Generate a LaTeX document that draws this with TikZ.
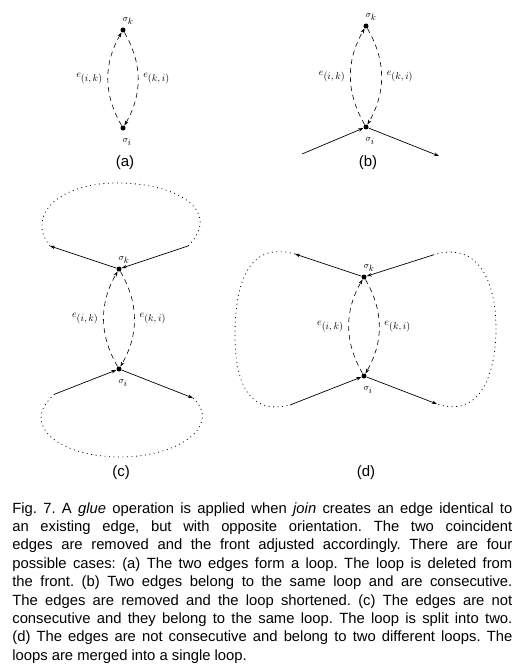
\documentclass[tikz,border=0pt]{standalone}
\usepackage{fontspec}
\setmainfont{Liberation Sans}
\usetikzlibrary{arrows.meta, positioning}
\frenchspacing
\tikzset{
  every picture/.style={x=1pt, y=-1pt, line width=0.7pt},
  vtx/.style={circle, fill=black, inner sep=0pt, minimum size=5pt},
  sig/.style={font=\fontsize{9.5}{10}\selectfont, inner sep=1pt},
  elab/.style={font=\fontsize{10}{11}\selectfont, inner sep=2pt},
  tip/.style={-{Stealth[length=5pt, width=3.5pt]}},
  glued/.style={tip, dash pattern=on 5pt off 4pt, line width=0.6pt},
  front/.style={tip, line width=0.7pt},
  loopdots/.style={dash pattern=on 0.9pt off 3.6pt, line width=0.8pt},
  panel/.style={font=\fontsize{15}{18}\selectfont},
  caption/.style={anchor=north west, text width=500pt, align=justify, inner sep=0pt, font=\fontsize{14.8}{18.4}\selectfont},
}

\begin{document}
\begin{tikzpicture}
  \useasboundingbox (0,0) rectangle (522,669);
  % the two coincident edges, same in every case
  \foreach \p/\x/\yk/\yi/\yl in {a/123/30/128/163, b/366/26/127/163, c/119/269/369/473, d/364/277/376/473} {
    \node[vtx] (\p k) at (\x,\yk) {};
    \node[vtx] (\p i) at (\x,\yi) {};
    \node[sig] (\p k-l) at (\x+5,\yk-9) {$\sigma_{\textstyle k}$};
    \node[sig] (\p i-l) at (\x+4,\yi+14) {$\sigma_{\textstyle i}$};
    \draw[glued] (\p i) to[bend left=30] node[elab, left=3pt] (\p ik) {$e_{\textstyle (i,k)}$} (\p k);
    \draw[glued] (\p k) to[bend left=30] node[elab, right=3pt] (\p ki) {$e_{\textstyle (k,i)}$} (\p i);
    \node[panel] (\p-cap) at (\x+2,\yl) {(\p)};
  }
  % (b): consecutive edges on one loop
  \coordinate (bin) at (302,154);
  \coordinate (bout) at (439,156);
  \draw[front] (bin) -- (bi);
  \draw[front] (bi) -- (bout);
  % (c): same loop, split into two
  \coordinate (cul) at (50,246);
  \coordinate (cur) at (188,246);
  \coordinate (cll) at (55,394);
  \coordinate (clr) at (193,398);
  \draw[front] (cur) -- (ck);
  \draw[front] (ck) -- (cul);
  \draw[front] (cll) -- (ci);
  \draw[front] (ci) -- (clr);
  \draw[loopdots] (cul) .. controls (25,215) and (60,182) .. (120,183) .. controls (180,184) and (222,212) .. (cur);
  \draw[loopdots] (clr) .. controls (222,425) and (180,457) .. (120,457) .. controls (60,457) and (18,425) .. (cll);
  % (d): two loops, merged
  \coordinate (dul) at (295,254);
  \coordinate (dur) at (433,255);
  \coordinate (dll) at (290,405);
  \coordinate (dlr) at (437,404);
  \draw[front] (dur) -- (dk);
  \draw[front] (dk) -- (dul);
  \draw[front] (dll) -- (di);
  \draw[front] (di) -- (dlr);
  \draw[loopdots] (dul) .. controls (245,240) and (235,290) .. (235,335) .. controls (235,385) and (250,415) .. (dll);
  \draw[loopdots] (dur) .. controls (480,240) and (496,285) .. (496,328) .. controls (496,375) and (480,418) .. (dlr);
  % caption
  \node[caption] (cap) at (12,502) {Fig. 7. A \emph{glue} operation is applied when \emph{join} creates an edge identical to\linebreak
    an existing edge, but with opposite orientation. The two coincident\linebreak
    edges are removed and the front adjusted accordingly. There are four\linebreak
    possible cases: (a) The two edges form a loop. The loop is deleted from\linebreak
    the front. (b) Two edges belong to the same loop and are consecutive.\linebreak
    The edges are removed and the loop shortened. (c) The edges are not\linebreak
    consecutive and they belong to the same loop. The loop is split into two.\linebreak
    (d) The edges are not consecutive and belong to two different loops. The\linebreak
    loops are merged into a single loop.};
\end{tikzpicture}
\end{document}
